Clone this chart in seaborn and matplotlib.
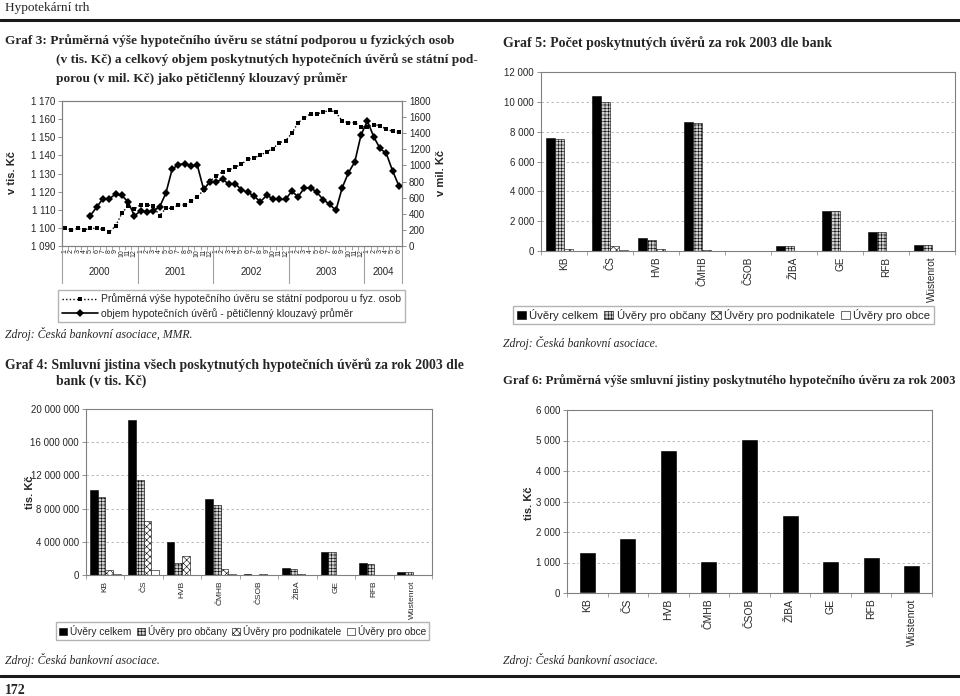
import numpy as np
import pandas as pd
import seaborn as sns
import matplotlib.pyplot as plt
from matplotlib.lines import Line2D
from matplotlib.patches import Patch
from matplotlib.ticker import FuncFormatter, FixedLocator

# ---- data ----
years = ['2000', '2001', '2002', '2003', '2004']
months = [str(m) for m in range(1, 13)] * 4 + [str(m) for m in range(1, 7)]

# Graf 3: average loan with state support (tis. Kc), left axis
avg_loan = [1100.1, 1098.8, 1099.7, 1099.0, 1099.7, 1099.7, 1099.2, 1097.7, 1101.0, 1108.0,
            1112.2, 1110.4, 1112.8, 1112.8, 1112.0, 1106.7, 1110.8, 1110.8, 1112.6, 1112.6,
            1114.8, 1117.2, 1120.9, 1125.8, 1128.6, 1131.0, 1132.0, 1133.4, 1135.2, 1137.8,
            1138.7, 1140.0, 1142.0, 1143.7, 1147.0, 1148.0, 1152.2, 1158.0, 1160.8, 1163.0,
            1163.0, 1163.7, 1165.0, 1163.7, 1159.0, 1158.0, 1158.0, 1155.8, 1155.8, 1157.0,
            1156.4, 1154.4, 1153.3, 1152.7]
# Graf 3: volume, 5-member moving average (mil. Kc), right axis
volume_ma = [np.nan] * 4 + [377, 482, 587, 587, 642, 630, 545, 377, 435, 425,
                            435, 484, 657, 955, 1009, 1023, 992, 1000, 702, 797,
                            800, 826, 770, 775, 698, 667, 620, 549, 628, 589,
                            578, 578, 680, 611, 723, 723, 665, 574, 518, 441,
                            723, 911, 1044, 1381, 1551, 1358, 1211, 1150, 934, 748]

banks = ['KB', 'ČS', 'HVB', 'ČMHB', 'ČSOB', 'ŽIBA', 'GE', 'RFB', 'Wüstenrot']
series = ['Úvěry celkem', 'Úvěry pro občany', 'Úvěry pro podnikatele', 'Úvěry pro obce']

# Graf 5: number of loans 2003
cnt_total = [7600, 10400, 850, 8650, 12, 360, 2650, 1280, 425]
cnt_citizens = [7500, 10000, 740, 8600, 0, 360, 2650, 1280, 425]
cnt_business = [110, 320, 110, 60, 10, 5, 0, 0, 0]
cnt_municip = [15, 60, 0, 0, 0, 0, 0, 0, 0]

# Graf 4: principal 2003 (tis. Kc)
prin_total = [10220000, 18670000, 3920000, 9210000, 80000, 850000, 2730000, 1450000, 400000]
prin_citizens = [9370000, 11430000, 1500000, 8400000, 0, 760000, 2730000, 1370000, 400000]
prin_business = [650000, 6460000, 2340000, 690000, 80000, 120000, 0, 0, 0]
prin_municip = [120000, 650000, 0, 80000, 0, 0, 0, 0, 0]

# Graf 6: average principal (tis. Kc)
avg_principal = [1341, 1788, 4690, 1058, 5060, 2552, 1058, 1167, 927]

# ---- style ----
sns.set_theme(style='ticks')
plt.rcParams['font.family'] = ['Liberation Sans', 'DejaVu Sans']
plt.rcParams['hatch.linewidth'] = 0.4

W, H = 960, 696
fig = plt.figure(figsize=(9.6, 6.96), dpi=100)
renderer = fig.canvas.get_renderer()
SERIF = ['Liberation Serif', 'DejaVu Serif']


def ax_px(x0, y0, x1, y1):
    return fig.add_axes([x0 / W, 1 - y1 / H, (x1 - x0) / W, (y1 - y0) / H])


def txt(x, y, s, **kw):
    kw.setdefault('va', 'center')
    return fig.text(x / W, 1 - y / H, s, **kw)


def title_block(lines, size=10.5):
    # lines: (x, y, text, max width px); one common size so the block looks even
    texts = [txt(x, y, s, family=SERIF, weight='bold', size=size) for x, y, s, _ in lines]
    scale = min([1.0] + [mw / t.get_window_extent(renderer).width
                         for t, (_, _, _, mw) in zip(texts, lines)])
    for t in texts:
        t.set_fontsize(size * scale)


def source(x, y, s):
    return txt(x, y, s, family=SERIF, style='italic', size=8.5)


thousands = FuncFormatter(lambda v, p: f'{int(round(v)):,}'.replace(',', ' '))

# page header / footer
txt(5, 8, 'Hypotekární trh', family=SERIF, size=9.5)
fig.add_artist(Line2D([0, 1], [1 - 20 / H] * 2, color='#1a1a1a', lw=2.2))
fig.add_artist(Line2D([0, 1], [1 - 676 / H] * 2, color='#1a1a1a', lw=2.2))
txt(5, 690, '172', family=SERIF, weight='bold', size=10)

# ---- Graf 3 ----
title_block([(5, 41, 'Graf 3: Průměrná výše hypotečního úvěru se státní podporou u fyzických osob', 462),
             (56, 60, '(v tis. Kč) a celkový objem poskytnutých hypotečních úvěrů se státní pod-', 420),
             (56, 79, 'porou (v mil. Kč) jako pětičlenný klouzavý průměr', 300)])

df3 = pd.DataFrame({'idx': range(len(avg_loan)), 'avg': avg_loan, 'vol': volume_ma})
ax3 = ax_px(62, 101, 402, 246)
sns.lineplot(data=df3, x='idx', y='avg', ax=ax3, color='black', lw=1.0,
             linestyle=(0, (1, 1.6)), marker='s', markersize=3, markeredgewidth=0)
ax3r = ax3.twinx()
sns.lineplot(data=df3, x='idx', y='vol', ax=ax3r, color='black', lw=1.2,
             marker='D', markersize=4.5, markeredgewidth=0)
ax3.set_xlim(-0.5, len(avg_loan) - 0.5)
ax3.set_ylim(1090, 1170)
ax3r.set_ylim(0, 1800)
ax3.set_yticks(np.arange(1090, 1171, 10))
ax3r.set_yticks(np.arange(0, 1801, 200))
ax3.yaxis.set_major_formatter(thousands)
for a in (ax3, ax3r):
    a.set_xlabel('')
    a.set_ylabel('')
    a.tick_params(axis='y', labelsize=7, length=3, width=0.6, color='#808080', pad=2)
    for sp in a.spines.values():
        sp.set_color('#808080')
        sp.set_linewidth(0.8)
ax3.set_xticks(range(len(months)))
ax3.set_xticklabels(months, rotation=90, fontsize=5)
ax3.xaxis.set_minor_locator(FixedLocator(np.arange(-0.5, len(months), 1)))
ax3.tick_params(axis='x', which='major', length=0, pad=2)
ax3.tick_params(axis='x', which='minor', length=3, width=0.5, color='#808080')
bounds = [-0.5, 11.5, 23.5, 35.5, 47.5, 53.5]
for b in bounds:
    ax3.add_line(Line2D([b, b], [0, -0.255], transform=ax3.get_xaxis_transform(),
                        color='#a0a0a0', lw=0.8, clip_on=False))
for yr, a, b in zip(years, bounds[:-1], bounds[1:]):
    ax3.text((a + b) / 2, -0.18, yr, transform=ax3.get_xaxis_transform(),
             ha='center', va='center', fontsize=7)
txt(12, 173, 'v tis. Kč', rotation=90, weight='bold', size=8, ha='center')
txt(441, 173, 'v mil. Kč', rotation=90, weight='bold', size=8, ha='center')
h3 = [Line2D([], [], color='black', lw=1.0, linestyle=(0, (1, 1.6)), marker='s',
             markersize=3, markeredgewidth=0),
      Line2D([], [], color='black', lw=1.2, marker='D', markersize=4.5, markeredgewidth=0)]
fig.legend(h3, ['Průměrná výše hypotečního úvěru se státní podporou u fyz. osob',
                'objem hypotečních úvěrů - pětičlenný klouzavý průměr'],
           loc='center left', bbox_to_anchor=(53 / W, 1 - 306 / H), fontsize=7.5,
           frameon=True, fancybox=False, edgecolor='#a0a0a0', handlelength=3.5,
           handletextpad=0.3, borderpad=0.35, labelspacing=0.35)
source(5, 334, 'Zdroj: Česká bankovní asociace, MMR.')

# ---- grouped bar helper ----
hatches = [None, '+++++', 'xxxxx', None]
palette = dict(zip(series, ['black', '#d0d0d0', 'white', 'white']))


def style_bar_axes(ax, ymax, step, xsize):
    ax.set_ylim(0, ymax)
    ax.set_xlim(-0.5, len(banks) - 0.5)
    ax.set_yticks(np.arange(0, ymax + 1, step))
    ax.yaxis.set_major_formatter(thousands)
    ax.set_xlabel('')
    ax.set_ylabel('')
    ax.yaxis.grid(True, linestyle=(0, (3, 3)), color='#b0b0b0', lw=0.6)
    ax.set_axisbelow(True)
    ax.tick_params(axis='y', labelsize=7, length=3, width=0.6, color='#808080', pad=2)
    ax.xaxis.set_minor_locator(FixedLocator(np.arange(-0.5, len(banks), 1)))
    ax.tick_params(axis='x', which='major', length=0, labelsize=xsize, pad=4,
                   labelrotation=90)
    ax.tick_params(axis='x', which='minor', length=3, width=0.5, color='#808080')
    for sp in ax.spines.values():
        sp.set_color('#808080')
        sp.set_linewidth(0.8)


def grouped_bars(ax, cols, ymax, step, xsize):
    df = pd.DataFrame({'bank': banks * 4,
                       'series': np.repeat(series, len(banks)),
                       'value': np.concatenate(cols)})
    sns.barplot(data=df, x='bank', y='value', hue='series', hue_order=series,
                palette=palette, saturation=1, width=0.8, ax=ax, legend=False,
                edgecolor='black', linewidth=0.4)
    for cont, h in zip(ax.containers, hatches):
        for bar in cont:
            bar.set_hatch(h)
    style_bar_axes(ax, ymax, step, xsize)


def bar_legend(x0, x1, yc, size):
    handles = [Patch(facecolor=palette[s], edgecolor='black', hatch=h, lw=0.4)
               for s, h in zip(series, hatches)]
    fig.legend(handles, series, loc='center', ncol=4,
               bbox_to_anchor=((x0 + x1) / 2 / W, 1 - yc / H), fontsize=size,
               frameon=True, fancybox=False, edgecolor='#a0a0a0', handlelength=0.8,
               handleheight=0.8, handletextpad=0.3, columnspacing=0.5, borderpad=0.3)


# ---- Graf 5 ----
title_block([(503, 43, 'Graf 5: Počet poskytnutých úvěrů za rok 2003 dle bank', 330)])
ax5 = ax_px(541, 72, 955, 251)
grouped_bars(ax5, [cnt_total, cnt_citizens, cnt_business, cnt_municip], 12000, 2000, 7.2)
bar_legend(515, 932, 315, 8.2)
source(503, 343, 'Zdroj: Česká bankovní asociace.')

# ---- Graf 4 ----
title_block([(5, 365, 'Graf 4: Smluvní jistina všech poskytnutých hypotečních úvěrů za rok 2003 dle', 462),
             (56, 381, 'bank (v tis. Kč)', 120)])
ax4 = ax_px(86, 409, 432, 575)
grouped_bars(ax4, [prin_total, prin_citizens, prin_business, prin_municip],
             20000000, 4000000, 6)
txt(30, 492, 'tis. Kč', rotation=90, weight='bold', size=8, ha='center')
bar_legend(55, 430, 631, 7.3)
source(5, 660, 'Zdroj: Česká bankovní asociace.')

# ---- Graf 6 ----
title_block([(503, 381, 'Graf 6: Průměrná výše smluvní jistiny poskytnutého hypotečního úvěru za rok 2003', 452)])
ax6 = ax_px(567, 410, 932, 593)
sns.barplot(x=banks, y=avg_principal, color='black', saturation=1, width=0.42, ax=ax6)
style_bar_axes(ax6, 6000, 1000, 7.5)
txt(529, 503, 'tis. Kč', rotation=90, weight='bold', size=8, ha='center')
source(503, 660, 'Zdroj: Česká bankovní asociace.')

fig.savefig('out.png', dpi=100)
